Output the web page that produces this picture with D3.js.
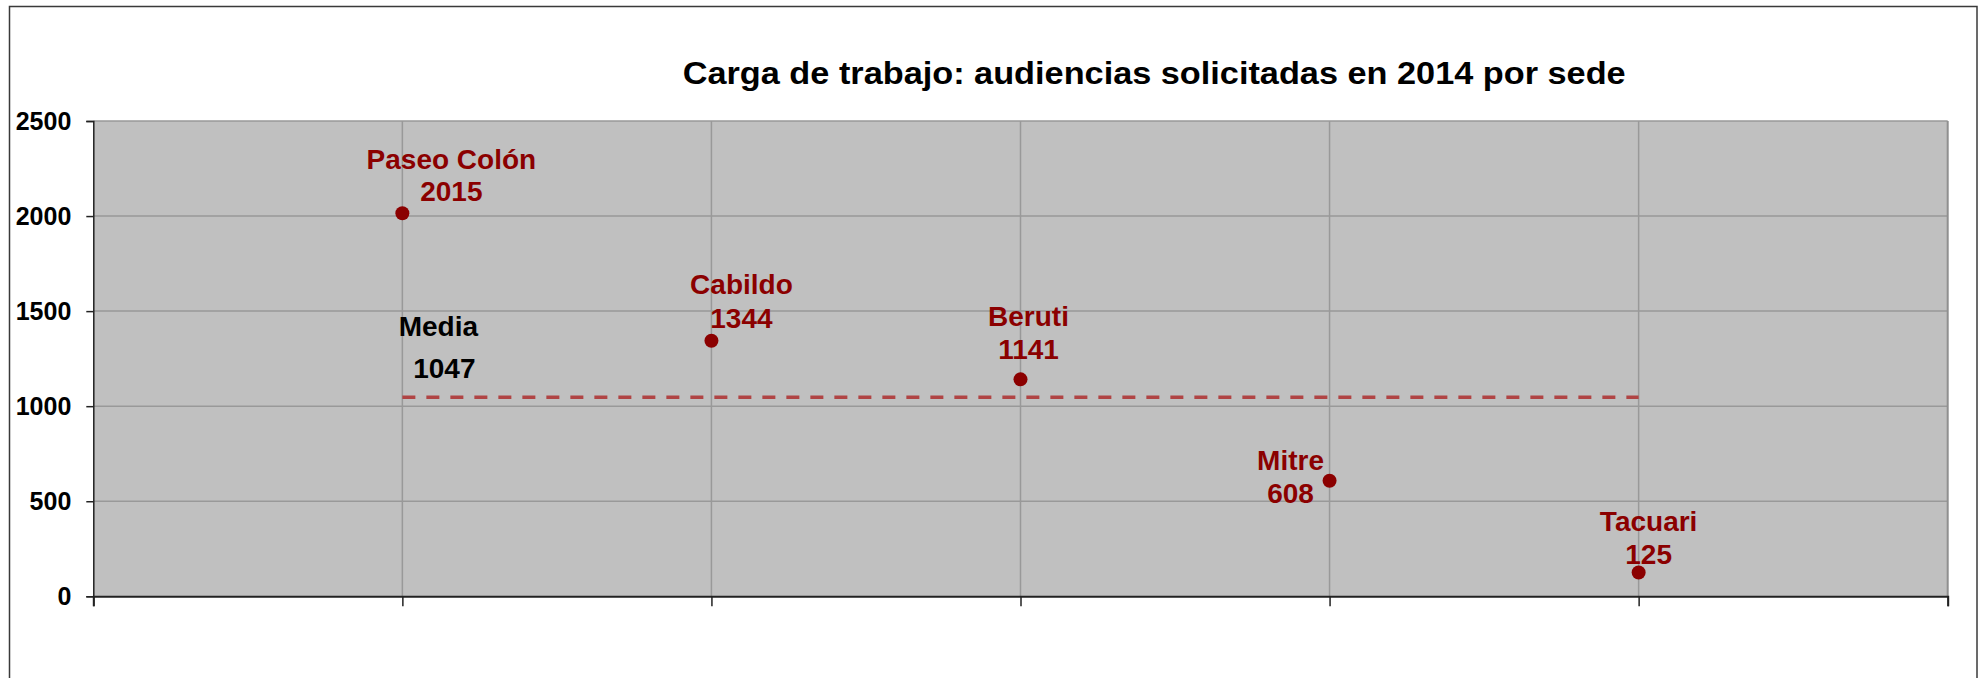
<!DOCTYPE html>
<html>
<head>
<meta charset="utf-8">
<script src="https://cdn.jsdelivr.net/npm/d3@7"></script>
<style>
html,body{margin:0;padding:0;background:#fff;}
svg{display:block;}
text{font-family:"Liberation Sans",Arial,sans-serif;font-weight:bold;}
</style>
</head>
<body>
<svg id="chart" width="1981" height="678"></svg>
<script>
// ---- data ----
const title = "Carga de trabajo: audiencias solicitadas en 2014 por sede";
const sedes = ["Paseo Colón", "Cabildo", "Beruti", "Mitre", "Tacuari"];
const audiencias = [2015, 1344, 1141, 608, 125];
const mediaLabel = "Media";
const mediaValue = 1047;
const yTicks = [0, 500, 1000, 1500, 2000, 2500];

// ---- layout (label placement relative to points) ----
const labelOffsets = [
  {dx: 49, dy1: -44, dy2: -12},
  {dx: 30, dy1: -47, dy2: -13},
  {dx: 8,  dy1: -53.5, dy2: -20},
  {dx: -39, dy1: -10.6, dy2: 22},
  {dx: 10, dy1: -42, dy2: -9}
];

const plot = {left: 93.3, right: 1947.7, top: 121, bottom: 596.3};
const dark = "#8B0000";

const svg = d3.select("#chart");

// outer frame
svg.append("rect")
  .attr("x", 9.5).attr("y", 6.5)
  .attr("width", 1967.5).attr("height", 700)
  .attr("fill", "#fff").attr("stroke", "#3a3a3a").attr("stroke-width", 1.5);

const x = d3.scaleLinear().domain([0, sedes.length + 1]).range([plot.left, plot.right]);
const y = d3.scaleLinear().domain([0, 2500]).range([plot.bottom, plot.top]);

// plot background
svg.append("rect")
  .attr("x", plot.left).attr("y", plot.top)
  .attr("width", plot.right - plot.left).attr("height", plot.bottom - plot.top)
  .attr("fill", "#C0C0C0");

// horizontal gridlines
svg.append("g").selectAll("line")
  .data(yTicks.filter(t => t > 0))
  .join("line")
  .attr("x1", plot.left).attr("x2", plot.right)
  .attr("y1", d => y(d)).attr("y2", d => y(d))
  .attr("stroke", "#999").attr("stroke-width", 1.5);

// vertical gridlines
svg.append("g").selectAll("line")
  .data(sedes.map((d, i) => i + 1))
  .join("line")
  .attr("x1", d => x(d)).attr("x2", d => x(d))
  .attr("y1", plot.top).attr("y2", plot.bottom)
  .attr("stroke", "#999").attr("stroke-width", 1.5);

// right border
svg.append("line")
  .attr("x1", plot.right).attr("x2", plot.right)
  .attr("y1", plot.top).attr("y2", plot.bottom)
  .attr("stroke", "#8f8f8f").attr("stroke-width", 2);

// y axis
const yAxis = svg.append("g")
  .attr("transform", `translate(${plot.left},0)`)
  .call(d3.axisLeft(y).tickValues(yTicks).tickSize(7).tickPadding(15).tickFormat(d3.format("d")));
yAxis.select(".domain").attr("stroke", "#222").attr("stroke-width", 1.5);
yAxis.selectAll(".tick line").attr("stroke", "#222").attr("stroke-width", 1.5);
yAxis.selectAll(".tick text")
  .attr("font-size", 25).attr("fill", "#000")
  .attr("font-family", "Liberation Sans, Arial, sans-serif").attr("font-weight", "bold");

// x axis
const xAxis = svg.append("g")
  .attr("transform", `translate(0,${plot.bottom})`)
  .call(d3.axisBottom(x).tickValues(d3.range(0, sedes.length + 2)).tickSize(10).tickFormat(""));
xAxis.select(".domain").attr("stroke", "#222").attr("stroke-width", 2);
xAxis.selectAll(".tick line").attr("stroke", "#222").attr("stroke-width", 1.5);

// mean dashed line
svg.append("line")
  .attr("x1", x(1)).attr("x2", x(sedes.length))
  .attr("y1", y(mediaValue)).attr("y2", y(mediaValue))
  .attr("stroke", "#B04444").attr("stroke-width", 3.5)
  .attr("stroke-dasharray", "13,11");

// mean labels
svg.append("text")
  .attr("x", x(1) + 36).attr("y", y(mediaValue) - 61.5)
  .attr("text-anchor", "middle").attr("font-size", 28).attr("fill", "#000")
  .text(mediaLabel);
svg.append("text")
  .attr("x", x(1) + 42).attr("y", y(mediaValue) - 19)
  .attr("text-anchor", "middle").attr("font-size", 28).attr("fill", "#000")
  .text(mediaValue);

// points
svg.append("g").selectAll("circle")
  .data(audiencias)
  .join("circle")
  .attr("cx", (d, i) => x(i + 1)).attr("cy", d => y(d))
  .attr("r", 7).attr("fill", dark);

// point labels
const lab = svg.append("g").selectAll("g")
  .data(audiencias)
  .join("g");
lab.append("text")
  .attr("x", (d, i) => x(i + 1) + labelOffsets[i].dx)
  .attr("y", (d, i) => y(d) + labelOffsets[i].dy1)
  .attr("text-anchor", "middle").attr("font-size", 28).attr("fill", dark)
  .text((d, i) => sedes[i]);
lab.append("text")
  .attr("x", (d, i) => x(i + 1) + labelOffsets[i].dx)
  .attr("y", (d, i) => y(d) + labelOffsets[i].dy2)
  .attr("text-anchor", "middle").attr("font-size", 28).attr("fill", dark)
  .text(d => d);

// title
svg.append("text")
  .attr("x", 682.7).attr("y", 84)
  .attr("font-size", 31).attr("fill", "#000")
  .attr("textLength", 943).attr("lengthAdjust", "spacingAndGlyphs")
  .text(title);
</script>
</body>
</html>
